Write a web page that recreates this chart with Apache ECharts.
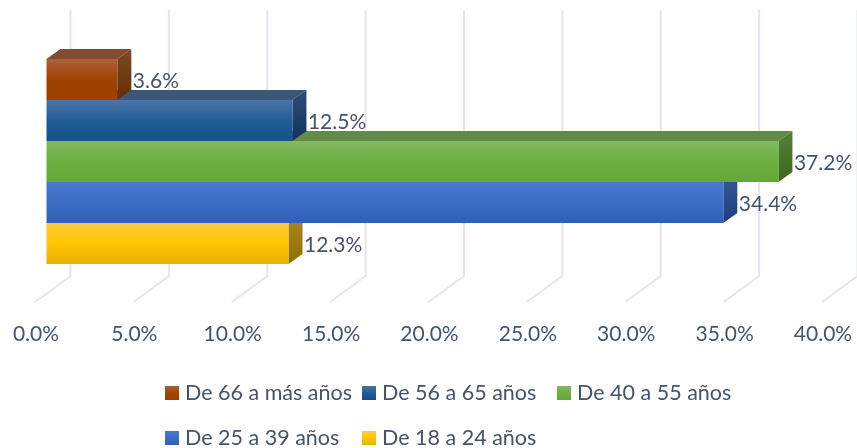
<!DOCTYPE html>
<html>
<head>
<meta charset="utf-8">
<style>
  html, body { margin: 0; padding: 0; background: #fff; }
  #chart { width: 857px; height: 448px; }
</style>
<script src="https://cdn.jsdelivr.net/npm/echarts@6/dist/echarts.min.js"></script>
</head>
<body>
<div id="chart"></div>
<script>
var ageGroups = ['De 66 a más años', 'De 56 a 65 años', 'De 40 a 55 años', 'De 25 a 39 años', 'De 18 a 24 años'];
var shares = [3.6, 12.5, 37.2, 34.4, 12.3];
var axisTicks = [0, 5, 10, 15, 20, 25, 30, 35, 40];

var textColor = '#44546a';
var fontName = 'Lato';

// front, top and side shades of each box
var shades = [
  { front: ['#ad6139', '#a04300', '#9b4000'], top: '#844b33', side: ['#7d4a26', '#662e00'] },
  { front: ['#4c74a6', '#205d9a', '#155087'], top: '#3c5878', side: ['#2f4e74', '#0f3460'] },
  { front: ['#80b960', '#6db040', '#63a737'], top: '#648a48', side: ['#557e3a', '#3b681c'] },
  { front: ['#4b79d0', '#3b6dc4', '#2f60b8'], top: '#3a5a96', side: ['#3a5992', '#1c3f80'] },
  { front: ['#ffca3c', '#ffc600', '#e6b000'], top: '#ad8a28', side: ['#ad8a28', '#8f6e00'] }
];

// pseudo 3D offsets, the axis sits on the front edge of the floor
var floorShift = 10.5;
var depthX = 14;
var depthY = 10;

function vGrad(colors) {
  return new echarts.graphic.LinearGradient(0, 0, 0, 1, colors.map(function (c, i) {
    return { offset: colors.length === 1 ? 0 : i / (colors.length - 1), color: c };
  }));
}

function drawBox(idx) {
  return function (params, api) {
    var val = api.value(0);
    var start = api.coord([0, api.value(1)]);
    var end = api.coord([val, api.value(1)]);
    var h = api.size([0, 1])[1];
    var x0 = start[0] + floorShift;
    var x1 = end[0] + floorShift;
    var y0 = start[1] - h / 2;
    var y1 = start[1] + h / 2;
    return {
      type: 'group',
      children: [
        {
          type: 'polygon',
          shape: { points: [[x0, y0], [x0 + depthX, y0 - depthY], [x1 + depthX, y0 - depthY], [x1, y0]] },
          style: { fill: shades[idx].top }
        },
        {
          type: 'polygon',
          shape: { points: [[x1, y0], [x1 + depthX, y0 - depthY], [x1 + depthX, y1 - depthY], [x1, y1]] },
          style: { fill: vGrad(shades[idx].side) }
        },
        {
          type: 'rect',
          shape: { x: x0, y: y0, width: x1 - x0, height: y1 - y0 },
          style: { fill: vGrad(shades[idx].front) }
        },
        {
          type: 'text',
          style: {
            x: x1 + depthX + 1.5,
            y: start[1] + 2,
            text: val.toFixed(1) + '%',
            fill: textColor,
            font: '21px ' + fontName,
            textAlign: 'left',
            textVerticalAlign: 'middle'
          }
        }
      ]
    };
  };
}

function drawWall(params, api) {
  var p = api.coord([api.value(0), ageGroups[0]]);
  var x = p[0];
  return {
    type: 'polyline',
    shape: { points: [[x + 34.5, 10], [x + 34.5, 276], [x - 1, 302]] },
    style: { fill: 'none', stroke: '#e2e6ee', lineWidth: 2 }
  };
}

var series = [{
  type: 'custom',
  name: 'walls',
  z: 1,
  silent: true,
  renderItem: drawWall,
  encode: { x: 0 },
  data: axisTicks.map(function (t) { return [t]; })
}];

ageGroups.forEach(function (name, i) {
  series.push({
    type: 'custom',
    name: name,
    z: 10 - i,
    renderItem: drawBox(i),
    encode: { x: 0, y: 1 },
    itemStyle: { color: vGrad(shades[i].front) },
    data: [[shares[i], name]]
  });
});

var legendLeft = [165, 362, 557, 165, 362];
var legendTop = [382, 382, 382, 427, 427];

var myChart = echarts.init(document.getElementById('chart'));
myChart.setOption({
  animation: false,
  backgroundColor: '#fff',
  grid: { left: 36, right: 34, top: 59, height: 205 },
  xAxis: {
    type: 'value',
    min: 0,
    max: 40,
    interval: 5,
    axisLine: { show: false },
    axisTick: { show: false },
    splitLine: { show: false },
    axisLabel: {
      margin: 60,
      color: textColor,
      fontFamily: fontName,
      fontSize: 21,
      formatter: function (v) { return v.toFixed(1) + '%'; }
    }
  },
  yAxis: {
    type: 'category',
    inverse: true,
    data: ageGroups,
    show: false
  },
  legend: ageGroups.map(function (name, i) {
    return {
      data: [name],
      left: legendLeft[i],
      top: legendTop[i],
      padding: 0,
      itemWidth: 14,
      itemHeight: 14,
      itemGap: 0,
      selectedMode: false,
      icon: 'rect',
      textStyle: { color: textColor, fontFamily: fontName, fontSize: 21.5, padding: [0, 0, 0, 1] }
    };
  }),
  series: series
});
</script>
</body>
</html>
